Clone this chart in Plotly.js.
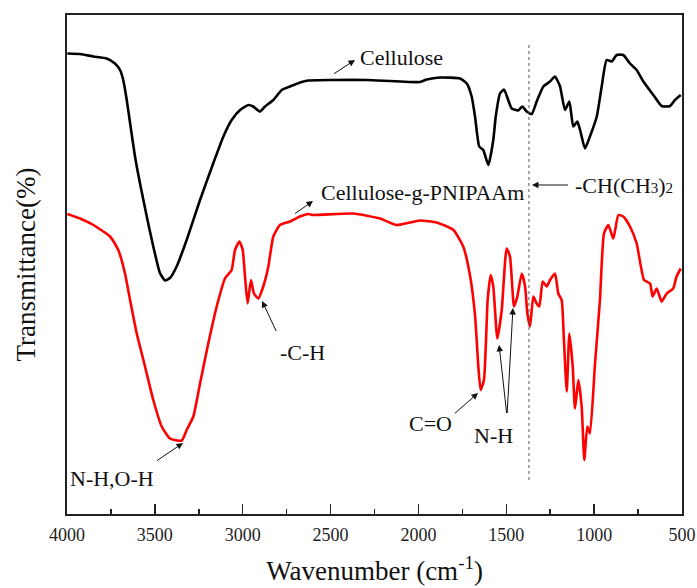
<!DOCTYPE html>
<html>
<head>
<meta charset="utf-8">
<script src="https://cdn.plot.ly/plotly-3.0.1.min.js"></script>
<style>html,body{margin:0;padding:0;background:#fff;}</style>
</head>
<body>
<div id="chart" style="width:697px;height:588px;"></div>
<script>
// Cellulose (black)
var celluloseWn = [3998,3926,3850,3774,3727,3698,3680,3660,3641,3613,3585,3546,3509,3471,3442,3414,3376,3319,3243,3167,3110,3063,3015,2968,2940,2902,2873,2826,2778,2731,2674,2628,2486,2294,1991,1953,1877,1763,1725,1697,1678,1654,1631,1602,1574,1560,1536,1513,1489,1469,1432,1409,1384,1355,1327,1289,1251,1223,1194,1166,1141,1119,1096,1080,1052,1024,985,957,929,900,872,834,796,758,720,663,616,568,540,507];
var celluloseT = [92.1,92.0,91.5,91.1,90.1,88.8,86.8,82.8,78.2,71.5,66.2,59.5,53.5,48.2,46.7,47.2,49.5,54.8,62.8,70.2,75.5,78.8,80.8,81.8,81.5,80.5,81.5,82.8,84.8,85.5,86.3,86.7,86.8,86.8,86.4,86.9,87.3,87.1,86.1,83.5,79.5,73.5,72.8,69.8,74.8,79.5,84.1,84.9,82.8,81.1,80.7,81.5,80.5,80.0,82.5,85.5,86.5,87.5,85.5,80.8,82.5,77.5,78.5,76.8,73.1,75.5,79.5,85.5,90.8,90.5,91.8,91.8,90.1,88.8,86.5,83.8,81.6,81.6,82.8,83.8];

// Cellulose-g-PNIPAAm (red)
var graftWn = [3998,3926,3850,3755,3708,3670,3641,3603,3556,3509,3461,3414,3347,3319,3281,3243,3196,3148,3101,3063,3044,3019,3000,2987,2972,2953,2936,2911,2883,2854,2826,2788,2731,2674,2627,2599,2371,2219,2124,1991,1896,1801,1745,1707,1678,1659,1646,1627,1606,1589,1574,1551,1526,1498,1479,1456,1437,1412,1393,1380,1365,1346,1327,1312,1293,1270,1251,1223,1204,1185,1172,1156,1141,1122,1109,1090,1071,1056,1039,1024,995,967,944,919,891,862,834,796,758,716,682,667,644,616,587,550,531,507];
var graftT = [60.0,59.1,57.8,55.5,52.8,48.1,42.8,36.1,29.5,22.8,17.5,15.1,14.7,16.8,19.5,26.1,34.1,41.5,47.1,48.8,52.8,54.5,52.8,47.5,42.1,46.8,44.1,43.1,45.5,49.5,55.5,57.8,58.5,59.5,60.0,59.8,60.1,59.1,57.8,58.7,58.3,56.8,53.5,47.8,39.8,29.5,24.8,26.8,42.8,47.8,45.5,35.1,40.8,53.1,51.5,41.5,43.5,48.1,45.5,40.1,37.5,43.5,42.1,41.5,46.5,45.5,46.8,48.1,44.1,42.8,34.8,24.5,36.1,29.5,21.1,26.8,21.5,10.8,17.5,16.1,30.1,42.8,56.1,57.8,55.1,59.8,59.5,57.5,54.1,46.8,46.1,43.5,45.1,42.5,44.1,45.1,47.5,49.1];

// Axis ticks
var tickValues = [4000,3500,3000,2500,2000,1500,1000,500];
var tickLabels = ["4000","3500","3000","2500","2000","1500","1000","500"];

// Marker line for -CH(CH3)2
var markerWn = 1371;
var markerSpan = [6.8, 94.4];

// Labels: text, x, y
var labelTexts = ["Cellulose", "Cellulose-g-PNIPAAm", "-CH(CH<span style=\"font-size:15px\">3</span>)<span style=\"font-size:15px\">2</span>", "-C-H", "N-H,O-H", "C=O", "N-H"];
var labelX = [2344, 2566, 1120, 2657, 3744, 1934, 1570];
var labelY = [91.4, 64.4, 65.8, 32.4, 7.2, 18.2, 15.8];
var labelAnchor = ["left", "left", "left", "center", "center", "center", "center"];

// Arrow heads: x, y
var arrowX = [2361, 2600, 1354, 2890, 3340, 1661, 1541, 1462];
var arrowY = [90.8, 62.6, 65.8, 42.6, 14.2, 24.2, 33.8, 41.2];
var arrowAx = [-23, -20, 38, 16, -28, -25, 8, -6];
var arrowAy = [15, 14, 0, 34, 19, 22, 72, 109];

var serif = "'Liberation Serif', 'Times New Roman', Times, serif";

var traces = [
  {x: celluloseWn, y: celluloseT, type: "scatter", mode: "lines", name: "Cellulose",
   line: {color: "#000000", width: 2.6, shape: "spline", smoothing: 0.5}},
  {x: graftWn, y: graftT, type: "scatter", mode: "lines", name: "Cellulose-g-PNIPAAm",
   line: {color: "#ff0000", width: 2.6, shape: "spline", smoothing: 0.5}}
];

var annotations = [];
for (var i = 0; i < labelTexts.length; i++) {
  annotations.push({x: labelX[i], y: labelY[i], xref: "x", yref: "y", text: labelTexts[i],
    showarrow: false, xanchor: labelAnchor[i], yanchor: "middle",
    font: {family: serif, size: 22, color: "#111"}});
}
for (var j = 0; j < arrowX.length; j++) {
  annotations.push({x: arrowX[j], y: arrowY[j], xref: "x", yref: "y", text: " ",
    showarrow: true, ax: arrowAx[j], ay: arrowAy[j], arrowhead: 2, arrowsize: 1.3,
    arrowwidth: 1, arrowcolor: "#111", standoff: 0, startstandoff: 0,
    font: {family: serif, size: 4}});
}

var layout = {
  width: 697, height: 588,
  margin: {l: 67, r: 15, t: 15, b: 74},
  paper_bgcolor: "#ffffff", plot_bgcolor: "#ffffff",
  font: {family: serif, color: "#111"},
  showlegend: false,
  xaxis: {
    range: [4000, 500], tickmode: "array", tickvals: tickValues, ticktext: tickLabels,
    ticks: "inside", ticklen: 10, tickwidth: 1.5, tickcolor: "#222", ticklabelstandoff: 3,
    minor: {dtick: 250, tick0: 500, ticks: "inside", ticklen: 5, tickwidth: 1.5, tickcolor: "#222"},
    showline: true, linewidth: 2, linecolor: "#222", mirror: true,
    showgrid: false, zeroline: false,
    tickfont: {family: serif, size: 18, color: "#222"},
    title: {text: "Wavenumber (cm<sup>-1</sup>)", font: {family: serif, size: 27, color: "#111"}, standoff: 18}
  },
  yaxis: {
    range: [0, 99.8], showticklabels: false, ticks: "",
    showline: true, linewidth: 2, linecolor: "#222", mirror: true,
    showgrid: false, zeroline: false,
    title: {text: "Transmittance(%)", font: {family: serif, size: 27, color: "#111"}, standoff: 22}
  },
  shapes: [{type: "line", xref: "x", yref: "y", x0: markerWn, x1: markerWn, y0: markerSpan[0], y1: markerSpan[1],
    line: {color: "#555", width: 1, dash: "dot"}}],
  annotations: annotations
};

Plotly.newPlot("chart", traces, layout, {displayModeBar: false, staticPlot: true});
</script>
</body>
</html>
